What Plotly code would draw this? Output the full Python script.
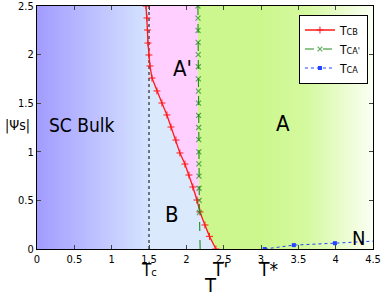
import numpy as np
import plotly.graph_objects as go

# ---- data ----
tcb_x = [1.46, 1.473, 1.479, 1.486, 1.499, 1.513, 1.54, 1.606, 1.673, 1.74, 1.794,
         1.861, 1.914, 1.981, 2.035, 2.088, 2.142, 2.182, 2.249, 2.31, 2.396]
tcb_y = [2.5, 2.377, 2.253, 2.119, 1.996, 1.883, 1.759, 1.626, 1.502, 1.379, 1.255,
         1.121, 0.988, 0.874, 0.761, 0.638, 0.504, 0.381, 0.247, 0.13, 0.0]

tca2_y = [2.5, 2.375, 2.25, 2.125, 2.0, 1.875, 1.75, 1.625, 1.5, 1.375, 1.25, 1.125,
          1.0, 0.875, 0.75, 0.625, 0.5, 0.375, 0.0]
tca2_x = [2.155, 2.156, 2.157, 2.158, 2.159, 2.16, 2.161, 2.162, 2.163, 2.164, 2.165,
          2.166, 2.167, 2.168, 2.169, 2.17, 2.172, 2.175, 2.185]
tca2_marked = [1] * 18 + [0]

tca_x = [3.05, 3.44, 3.99, 4.6]
tca_y = [0.0, 0.04, 0.06, 0.085]

tc = 1.5
x_ticks = [0, 0.5, 1, 1.5, 2, 2.5, 3, 3.5, 4, 4.5]
y_ticks = [0, 0.5, 1, 1.5, 2, 2.5]
Y_MAX = 2.5

FONT = "Liberation Sans Narrow, DejaVu Sans Condensed, Arial Narrow, sans-serif"

# ---- background regions (encoded as z segments of a colorscale) ----
gx = np.linspace(0.00625, 4.49375, 360)
gy = np.linspace(0.00625, 2.49375, 200)
ry = np.array(tcb_y[::-1]); rx = np.array(tcb_x[::-1])
gxy = np.array(tca2_y[::-1]); gxx = np.array(tca2_x[::-1])
Z = np.zeros((len(gy), len(gx)))
for i, yv in enumerate(gy):
    red = np.interp(yv, ry, rx)
    grn = np.interp(yv, gxy, gxx)
    for j, xv in enumerate(gx):
        if xv < red or (xv < tc):
            if xv < tc:
                Z[i, j] = 0.999 * xv / tc                 # left gradient
            else:
                Z[i, j] = 1.5                              # B region
        elif xv < grn:
            Z[i, j] = 2.5                                  # A' region
        else:
            t = 0.0 if xv < 3.0 else (xv - 3.0) / 1.5
            Z[i, j] = 3.0 + min(t, 1.0)                    # A gradient
cs = [
    [0.0, "#a29cff"], [0.2499, "#d6e4ff"],
    [0.25, "#dbe9fd"], [0.4999, "#dbe9fd"],
    [0.5, "#ffd0ff"], [0.7499, "#ffd0ff"],
    [0.75, "#ccf78e"], [0.85, "#d4f99e"], [1.0, "#fbfff4"],
]

fig = go.Figure()
fig.add_trace(go.Heatmap(x=gx, y=gy, z=Z, zmin=0, zmax=4, colorscale=cs,
                         showscale=False, hoverinfo="skip", zsmooth=False))

fig.add_trace(go.Scatter(x=[tc, tc], y=[0, Y_MAX], mode="lines",
                         line=dict(color="black", width=1, dash="dot"),
                         showlegend=False, hoverinfo="skip"))

fig.add_trace(go.Scatter(x=tcb_x, y=tcb_y, mode="lines+markers",
                         name="T<span style='font-size:9px'>CB</span>",
                         line=dict(color="#ff1a1a", width=1.3),
                         marker=dict(symbol="cross-thin", size=5,
                                     line=dict(color="#ff1a1a", width=1))))
fig.add_trace(go.Scatter(x=tca2_x, y=tca2_y, mode="lines+markers",
                         name="T<span style='font-size:9px'>CA'</span>",
                         line=dict(color="#1e8c1e", width=1.1, dash="dash"),
                         marker=dict(symbol="x-thin", size=[5 * m for m in tca2_marked],
                                     line=dict(color="#1e8c1e", width=1.2))))
fig.add_trace(go.Scatter(x=tca_x, y=tca_y, mode="lines+markers",
                         name="T<span style='font-size:9px'>CA</span>",
                         line=dict(color="#2244ff", width=1, dash="dot"),
                         marker=dict(symbol="square", size=4, color="#2244ff")))

ann = []
def lab(x, y, text, size, xref="x"):
    ann.append(dict(x=x, y=y / Y_MAX, xref=xref, yref="paper", text=text,
                    showarrow=False, xanchor="center", yanchor="middle",
                    font=dict(family=FONT, size=size, color="black")))

lab(0.6, 1.28, "SC Bulk", 19)
lab(1.95, 1.86, "A'", 22)
lab(3.29, 1.29, "A", 22)
lab(1.81, 0.35, "B", 22)
lab(4.3, 0.11, "N", 20)
lab(1.5, -0.215, "T<span style='font-size:11px'>c</span>", 17)
lab(2.45, -0.205, "T'", 19)
lab(2.32, -0.37, "T", 20)
lab(3.1, -0.205, "T*", 19)
lab(-0.058, 1.27, "|Ψs|", 14, xref="paper")

fig.update_layout(
    template="none",
    width=382, height=293, margin=dict(l=37, r=9, t=6, b=44, autoexpand=False),
    paper_bgcolor="white", plot_bgcolor="white",
    font=dict(family=FONT, size=11, color="black"),
    annotations=ann,
    legend=dict(x=0.985, y=0.965, xanchor="right", yanchor="top",
                bgcolor="white", bordercolor="black", borderwidth=1,
                font=dict(family=FONT, size=12), itemwidth=30,
                tracegroupgap=0),
    xaxis=dict(range=[0, 4.5], tickvals=x_ticks, ticktext=[str(v) for v in x_ticks],
               ticks="inside", ticklen=4, showgrid=False, zeroline=False,
               automargin=False, ticklabeloverflow="allow",
               showline=True, linecolor="black", linewidth=1, mirror="allticks"),
    yaxis=dict(range=[0, Y_MAX], tickvals=y_ticks, ticktext=[str(v) for v in y_ticks],
               ticks="inside", ticklen=4, showgrid=False, zeroline=False,
               automargin=False, ticklabeloverflow="allow",
               showline=True, linecolor="black", linewidth=1, mirror="allticks"),
)
fig.write_html("out.html", config={"displayModeBar": False},
               post_script="document.body.style.margin='0';document.body.style.overflow='hidden';")
